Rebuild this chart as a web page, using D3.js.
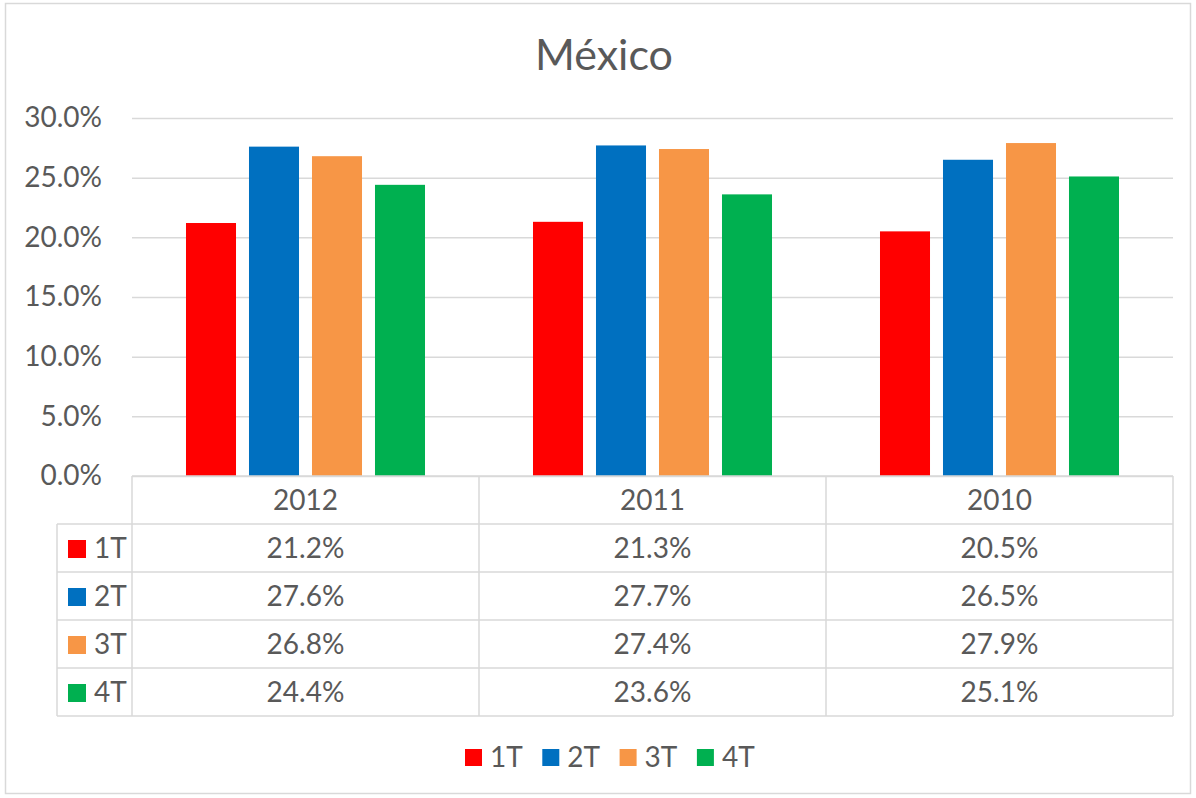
<!DOCTYPE html>
<html><head><meta charset="utf-8">
<script src="https://cdn.jsdelivr.net/npm/d3@7"></script>
<style>body{margin:0;background:#fff}svg{display:block}</style>
</head><body>
<svg id="c" width="1196" height="798"></svg>
<script>
const categories = ["2012", "2011", "2010"];
const seriesNames = ["1T", "2T", "3T", "4T"];
const colors = ["#FF0000", "#0070C0", "#F79646", "#00B050"];
const v1T = [21.2, 21.3, 20.5];
const v2T = [27.6, 27.7, 26.5];
const v3T = [26.8, 27.4, 27.9];
const v4T = [24.4, 23.6, 25.1];
const yTicks = [0, 5, 10, 15, 20, 25, 30];
const title = "México";

const values = [v1T, v2T, v3T, v4T];
const font = "Lato, 'Open Sans', sans-serif";
const txt = "#595959", grid = "#d9d9d9";
const svg = d3.select("#c");

svg.append("rect").attr("x", 5.5).attr("y", 3.5).attr("width", 1185).attr("height", 790)
  .attr("fill", "#fff").attr("stroke", grid).attr("stroke-width", 1.5);

svg.append("text").attr("x", 604).attr("y", 70).attr("text-anchor", "middle")
  .attr("font-family", font).attr("font-size", 43).attr("fill", txt).text(title);

const L = 132, R = 1173, T = 118, B = 476;
const x0 = d3.scaleBand().domain(categories).range([L, R]);
const x1 = d3.scaleBand().domain(seriesNames).range([0, x0.bandwidth()]).paddingInner(0.206).paddingOuter(0.857);
const y = d3.scaleLinear().domain([0, 30]).range([B, T]);

const yAxis = svg.append("g").attr("transform", `translate(${L},0)`)
  .call(d3.axisLeft(y).tickValues(yTicks).tickSize(-(R - L)).tickPadding(30).tickFormat(d => d.toFixed(1) + "%"));
yAxis.select(".domain").remove();
yAxis.selectAll("line").attr("stroke", grid).attr("stroke-width", 1.5);
yAxis.selectAll("text").attr("font-family", font).attr("font-size", 28).attr("fill", txt);

const g = svg.append("g");
categories.forEach((c, ci) => {
  seriesNames.forEach((s, si) => {
    const val = values[si][ci];
    g.append("rect").attr("x", x0(c) + x1(s)).attr("y", y(val))
      .attr("width", x1.bandwidth()).attr("height", y(0) - y(val)).attr("fill", colors[si]);
  });
});

// data table
const rowH = 48, tl = 57;
const tb = svg.append("g").attr("stroke", grid).attr("stroke-width", 1.5).attr("fill", "none");
tb.append("line").attr("x1", L).attr("x2", R).attr("y1", B).attr("y2", B);
for (let r = 1; r <= 5; r++) {
  tb.append("line").attr("x1", tl).attr("x2", R).attr("y1", B + r * rowH).attr("y2", B + r * rowH);
}
tb.append("line").attr("x1", tl).attr("x2", tl).attr("y1", B + rowH).attr("y2", B + 5 * rowH);
categories.forEach(c => {
  tb.append("line").attr("x1", x0(c)).attr("x2", x0(c)).attr("y1", B).attr("y2", B + 5 * rowH);
});
tb.append("line").attr("x1", R).attr("x2", R).attr("y1", B).attr("y2", B + 5 * rowH);

const tt = svg.append("g").attr("font-family", font).attr("font-size", 28).attr("fill", txt);
categories.forEach(c => {
  tt.append("text").attr("x", x0(c) + x0.bandwidth() / 2).attr("y", B + rowH / 2 + 10)
    .attr("text-anchor", "middle").text(c);
});
seriesNames.forEach((s, si) => {
  const ry = B + rowH * (si + 1);
  svg.append("rect").attr("x", 68).attr("y", ry + 16).attr("width", 18).attr("height", 18).attr("fill", colors[si]);
  tt.append("text").attr("x", 94).attr("y", ry + rowH / 2 + 10).text(s);
  categories.forEach((c, ci) => {
    tt.append("text").attr("x", x0(c) + x0.bandwidth() / 2).attr("y", ry + rowH / 2 + 10)
      .attr("text-anchor", "middle").text(values[si][ci].toFixed(1) + "%");
  });
});

// legend
const lg = svg.append("g").attr("font-family", font).attr("font-size", 28).attr("fill", txt);
seriesNames.forEach((s, si) => {
  const lx = 465 + si * 77.3;
  lg.append("rect").attr("x", lx).attr("y", 749).attr("width", 17).attr("height", 17).attr("fill", colors[si]);
  lg.append("text").attr("x", lx + 25).attr("y", 767).text(s);
});
</script>
</body></html>
